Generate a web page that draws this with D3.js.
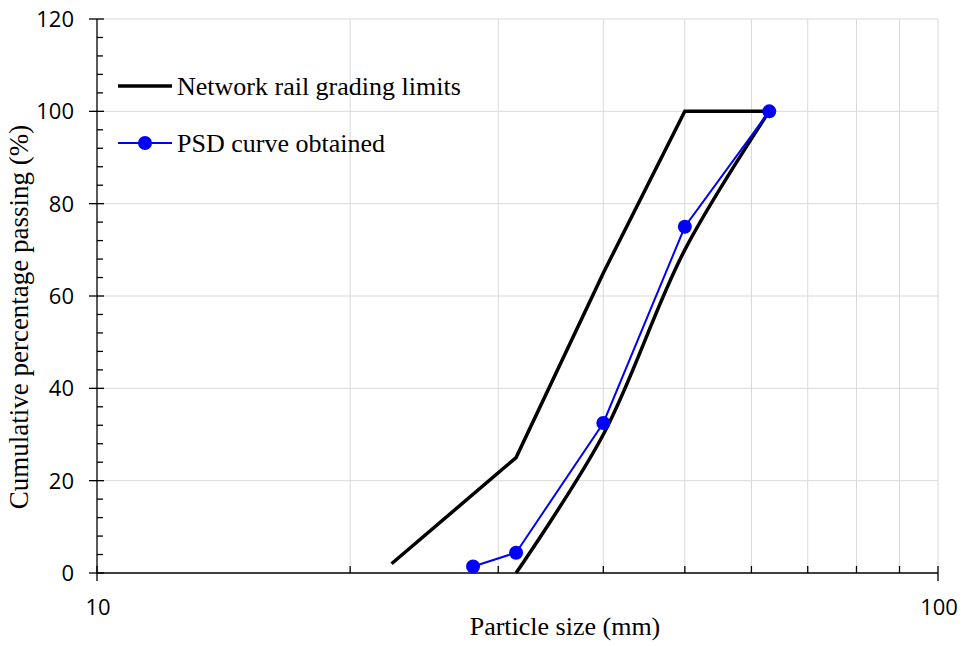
<!DOCTYPE html>
<html>
<head>
<meta charset="utf-8">
<script src="https://cdn.jsdelivr.net/npm/d3@7"></script>
<style>
  html, body { margin: 0; padding: 0; background: #fff; }
  svg { display: block; }
</style>
</head>
<body>
<svg id="chart" width="964" height="646"></svg>
<script>
// Grading envelope (Network Rail ballast) and measured PSD
const upperSize = [22.4, 31.5, 40, 50, 63];
const upperPass = [2, 25, 65, 100, 100];
const lowerSize = [31.5, 40, 50, 63];
const lowerPass = [0, 30, 70, 100];
const psdSize = [28, 31.5, 40, 50, 63];
const psdPass = [1.4, 4.4, 32.5, 75, 100];
const xTickLabels = [10, 100];
const yTickLabels = [0, 20, 40, 60, 80, 100, 120];
const legendLabels = ["Network rail grading limits", "PSD curve obtained"];

const svg = d3.select("#chart");
const m = { left: 97, right: 938, top: 19, bottom: 573 };

const x = d3.scaleLog().domain([10, 100]).range([m.left, m.right]);
const y = d3.scaleLinear().domain([0, 120]).range([m.bottom, m.top]);

// gridlines
const grid = svg.append("g").attr("stroke", "#d9d9d9").attr("stroke-width", 1);
d3.range(20, 101, 10).forEach(v => {
  grid.append("line").attr("x1", x(v)).attr("x2", x(v)).attr("y1", y(0)).attr("y2", y(120));
});
d3.range(20, 121, 20).forEach(v => {
  grid.append("line").attr("x1", x(10)).attr("x2", x(100)).attr("y1", y(v)).attr("y2", y(v));
});

// axes
const ax = svg.append("g").attr("stroke", "#000").attr("stroke-width", 1.3);
ax.append("line").attr("x1", x(10)).attr("x2", x(10)).attr("y1", y(0)).attr("y2", y(120));
ax.append("line").attr("x1", x(10)).attr("x2", x(100)).attr("y1", y(0)).attr("y2", y(0));
// y major ticks (crossing) and minor ticks (inside)
yTickLabels.forEach(v => {
  ax.append("line").attr("x1", x(10) - 8).attr("x2", x(10) + 7).attr("y1", y(v)).attr("y2", y(v));
});
d3.range(0, 120, 4).filter(v => v % 20 !== 0).forEach(v => {
  ax.append("line").attr("x1", x(10)).attr("x2", x(10) + 6).attr("y1", y(v)).attr("y2", y(v));
});
// x major ticks and minor ticks
xTickLabels.forEach(v => {
  ax.append("line").attr("x1", x(v)).attr("x2", x(v)).attr("y1", y(0) - 7).attr("y2", y(0) + 8);
});
d3.range(20, 100, 10).forEach(v => {
  ax.append("line").attr("x1", x(v)).attr("x2", x(v)).attr("y1", y(0) - 7).attr("y2", y(0));
});

const tickFont = "Open Sans, Lato, sans-serif";
svg.append("g").selectAll("text").data(yTickLabels).join("text")
  .attr("x", 74).attr("y", d => y(d)).attr("dy", "0.36em")
  .attr("text-anchor", "end").attr("font-family", tickFont).attr("font-size", 22)
  .attr("fill", "#000").text(d => d);
svg.append("g").selectAll("text").data(xTickLabels).join("text")
  .attr("x", d => x(d) + 1).attr("y", 615)
  .attr("text-anchor", "middle").attr("font-family", tickFont).attr("font-size", 22)
  .attr("fill", "#000").text(d => d);

const serif = "Liberation Serif, Times New Roman, serif";
svg.append("text").attr("x", 565).attr("y", 635)
  .attr("text-anchor", "middle").attr("font-family", serif).attr("font-size", 26)
  .text("Particle size (mm)");
svg.append("text").attr("transform", "translate(28,317) rotate(-90)")
  .attr("text-anchor", "middle").attr("font-family", serif).attr("font-size", 27)
  .text("Cumulative percentage passing (%)");

// series
const line = d3.line().x(d => x(d[0])).y(d => y(d[1]));
svg.append("path").datum(d3.zip(upperSize, upperPass))
  .attr("d", line).attr("fill", "none").attr("stroke", "#000").attr("stroke-width", 3.5)
  .attr("stroke-linejoin", "miter");
const smooth = d3.line().x(d => x(d[0])).y(d => y(d[1])).curve(d3.curveCatmullRom.alpha(0.5));
svg.append("path").datum(d3.zip(lowerSize, lowerPass))
  .attr("d", smooth).attr("fill", "none").attr("stroke", "#000").attr("stroke-width", 3.5);
const psd = d3.zip(psdSize, psdPass);
svg.append("path").datum(psd).attr("d", line).attr("fill", "none")
  .attr("stroke", "#0000ff").attr("stroke-width", 2);
svg.append("g").selectAll("circle").data(psd).join("circle")
  .attr("cx", d => x(d[0])).attr("cy", d => y(d[1])).attr("r", 7).attr("fill", "#0000ff");

// legend
const lg = svg.append("g");
lg.append("line").attr("x1", 118).attr("x2", 172).attr("y1", 86).attr("y2", 86)
  .attr("stroke", "#000").attr("stroke-width", 3.5);
lg.append("text").attr("x", 177).attr("y", 95)
  .attr("font-family", serif).attr("font-size", 26).text(legendLabels[0]);
lg.append("line").attr("x1", 118).attr("x2", 172).attr("y1", 143).attr("y2", 143)
  .attr("stroke", "#0000ff").attr("stroke-width", 2);
lg.append("circle").attr("cx", 145).attr("cy", 143).attr("r", 7).attr("fill", "#0000ff");
lg.append("text").attr("x", 177).attr("y", 152)
  .attr("font-family", serif).attr("font-size", 26).text(legendLabels[1]);
</script>
</body>
</html>
